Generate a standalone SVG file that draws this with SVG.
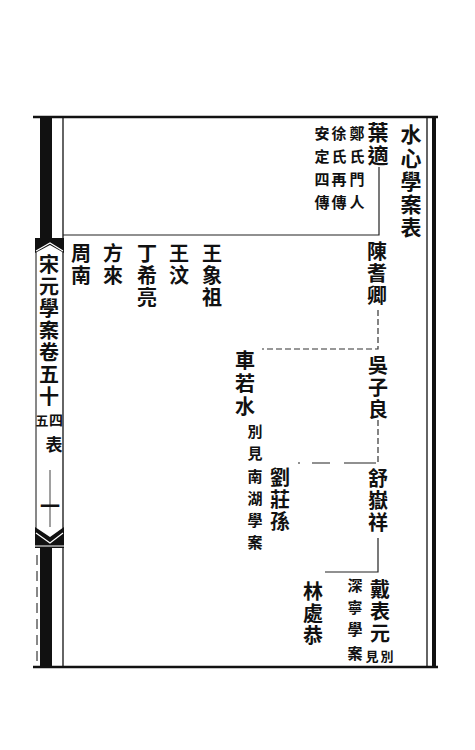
<svg xmlns="http://www.w3.org/2000/svg" width="475" height="750" viewBox="0 0 475 750">
<style>
.t{font-family:"Noto Sans CJK TC","Noto Sans CJK SC","Noto Sans CJK JP",sans-serif;font-weight:700;fill:#111;text-anchor:middle;dominant-baseline:central}
.m{font-size:20px}
.n{font-size:15px}
.s{font-size:13px}
.ln{stroke:#222;stroke-width:1.2;fill:none}
.dl{stroke:#333;stroke-width:1.2;fill:none;stroke-dasharray:6 3}
.fr{stroke:#111;fill:none}
</style>
<rect width="475" height="750" fill="#fff"/>
<g id="frame">
<line class="fr" x1="33" y1="117" x2="438" y2="117" stroke-width="2.5"/>
<line class="fr" x1="33" y1="667" x2="438" y2="667" stroke-width="2.5"/>
<rect x="40" y="117" width="12" height="122" fill="#111"/>
<rect x="40" y="548" width="12" height="119" fill="#111"/>
<line class="fr" x1="63" y1="117" x2="63" y2="667" stroke-width="1.3"/>
<line class="fr" x1="36" y1="239" x2="36" y2="548" stroke-width="1"/>
<line class="fr" x1="37" y1="555" x2="37" y2="662" stroke-width="1" stroke-dasharray="10 6"/>
<line class="fr" x1="427" y1="117" x2="427" y2="667" stroke-width="1.3"/>
<rect x="432" y="117" width="4" height="551" fill="#111"/>
<polygon points="35,238 64,238 64,253 50,245 35,253" fill="#111"/>
<polyline points="36,251 50,243 63,251" stroke="#fff" stroke-width="1.2" fill="none"/>
<polygon points="35,527 50,537 64,527 64,548 35,548" fill="#111"/>
<polyline points="36,533 50,543 63,533" stroke="#fff" stroke-width="1.2" fill="none"/>
<line x1="35" y1="546" x2="64" y2="546" stroke="#fff" stroke-width="1"/>
<line class="fr" x1="50" y1="470" x2="50" y2="527" stroke-width="0.8"/>
</g>
<g id="margin">
<text class="t m"><tspan x="49" y="263">宋</tspan><tspan x="49" y="285">元</tspan><tspan x="49" y="307">學</tspan><tspan x="49" y="329">案</tspan><tspan x="49" y="351">卷</tspan><tspan x="49" y="373">五</tspan><tspan x="49" y="395">十</tspan></text>
<text class="t" style="font-size:14px"><tspan x="56" y="419">四</tspan></text>
<text class="t s"><tspan x="42" y="419">五</tspan></text>
<text class="t" style="font-size:17px"><tspan x="54" y="443">表</tspan></text>
<text class="t m"><tspan x="50" y="505">一</tspan></text>
</g>
<g id="title">
<text class="t" style="font-size:21px"><tspan x="411" y="133">水</tspan><tspan x="411" y="157">心</tspan><tspan x="411" y="180">學</tspan><tspan x="411" y="203">案</tspan><tspan x="411" y="226">表</tspan></text>
</g>
<g id="connectors">
<polyline class="ln" points="379,167 379,235 63,235"/>
<polyline class="dl" points="378,310 378,349 262,349"/>
<line class="dl" x1="378" y1="420" x2="378" y2="463"/>
<polyline class="ln" points="376,463 298,463" stroke-dasharray="32 14 18 12"/>
<polyline class="ln" points="378,538 378,572 325,572"/>
</g>
<g id="yeshi">
<text class="t" style="font-size:21px"><tspan x="378" y="131">葉</tspan><tspan x="378" y="154">適</tspan></text>
<text class="t n"><tspan x="357" y="132">鄭</tspan><tspan x="357" y="155">氏</tspan><tspan x="357" y="178">門</tspan><tspan x="357" y="201">人</tspan></text>
<text class="t n"><tspan x="339" y="132">徐</tspan><tspan x="339" y="155">氏</tspan><tspan x="339" y="178">再</tspan><tspan x="339" y="201">傳</tspan></text>
<text class="t n"><tspan x="322" y="132">安</tspan><tspan x="322" y="155">定</tspan><tspan x="322" y="178">四</tspan><tspan x="322" y="201">傳</tspan></text>
</g>
<g id="chenqiqing">
<text class="t m"><tspan x="377" y="250">陳</tspan><tspan x="377" y="272">耆</tspan><tspan x="377" y="294">卿</tspan></text>
</g>
<g id="wangxiangzu">
<text class="t m"><tspan x="212" y="252">王</tspan><tspan x="212" y="274">象</tspan><tspan x="212" y="296">祖</tspan></text>
</g>
<g id="wangwen">
<text class="t m"><tspan x="179" y="252">王</tspan><tspan x="179" y="274">汶</tspan></text>
</g>
<g id="dingxiliang">
<text class="t m"><tspan x="147" y="252">丁</tspan><tspan x="147" y="274">希</tspan><tspan x="147" y="296">亮</tspan></text>
</g>
<g id="fanglai">
<text class="t m"><tspan x="113" y="252">方</tspan><tspan x="113" y="274">來</tspan></text>
</g>
<g id="zhounan">
<text class="t m"><tspan x="81" y="252">周</tspan><tspan x="81" y="274">南</tspan></text>
</g>
<g id="wuziliang">
<text class="t m"><tspan x="378" y="364">吳</tspan><tspan x="378" y="386">子</tspan><tspan x="378" y="408">良</tspan></text>
</g>
<g id="cheruoshui">
<text class="t m"><tspan x="245" y="359">車</tspan><tspan x="245" y="382">若</tspan><tspan x="245" y="405">水</tspan></text>
<text class="t n"><tspan x="255" y="430">別</tspan><tspan x="255" y="452">見</tspan><tspan x="255" y="475">南</tspan><tspan x="255" y="497">湖</tspan><tspan x="255" y="519">學</tspan><tspan x="255" y="541">案</tspan></text>
</g>
<g id="shuyuexiang">
<text class="t m"><tspan x="378" y="477">舒</tspan><tspan x="378" y="499">嶽</tspan><tspan x="378" y="521">祥</tspan></text>
</g>
<g id="liuzhuangsun">
<text class="t m"><tspan x="280" y="476">劉</tspan><tspan x="280" y="498">莊</tspan><tspan x="280" y="520">孫</tspan></text>
</g>
<g id="daibiaoyuan">
<text class="t m"><tspan x="380" y="588">戴</tspan><tspan x="380" y="610">表</tspan><tspan x="380" y="632">元</tspan></text>
<text class="t s"><tspan x="387" y="655">別</tspan><tspan x="372" y="655">見</tspan></text>
<text class="t n"><tspan x="355" y="584">深</tspan><tspan x="355" y="606">寧</tspan><tspan x="355" y="628">學</tspan><tspan x="355" y="652">案</tspan></text>
</g>
<g id="linchugong">
<text class="t m"><tspan x="313" y="590">林</tspan><tspan x="313" y="612">處</tspan><tspan x="313" y="634">恭</tspan></text>
</g>
</svg>
